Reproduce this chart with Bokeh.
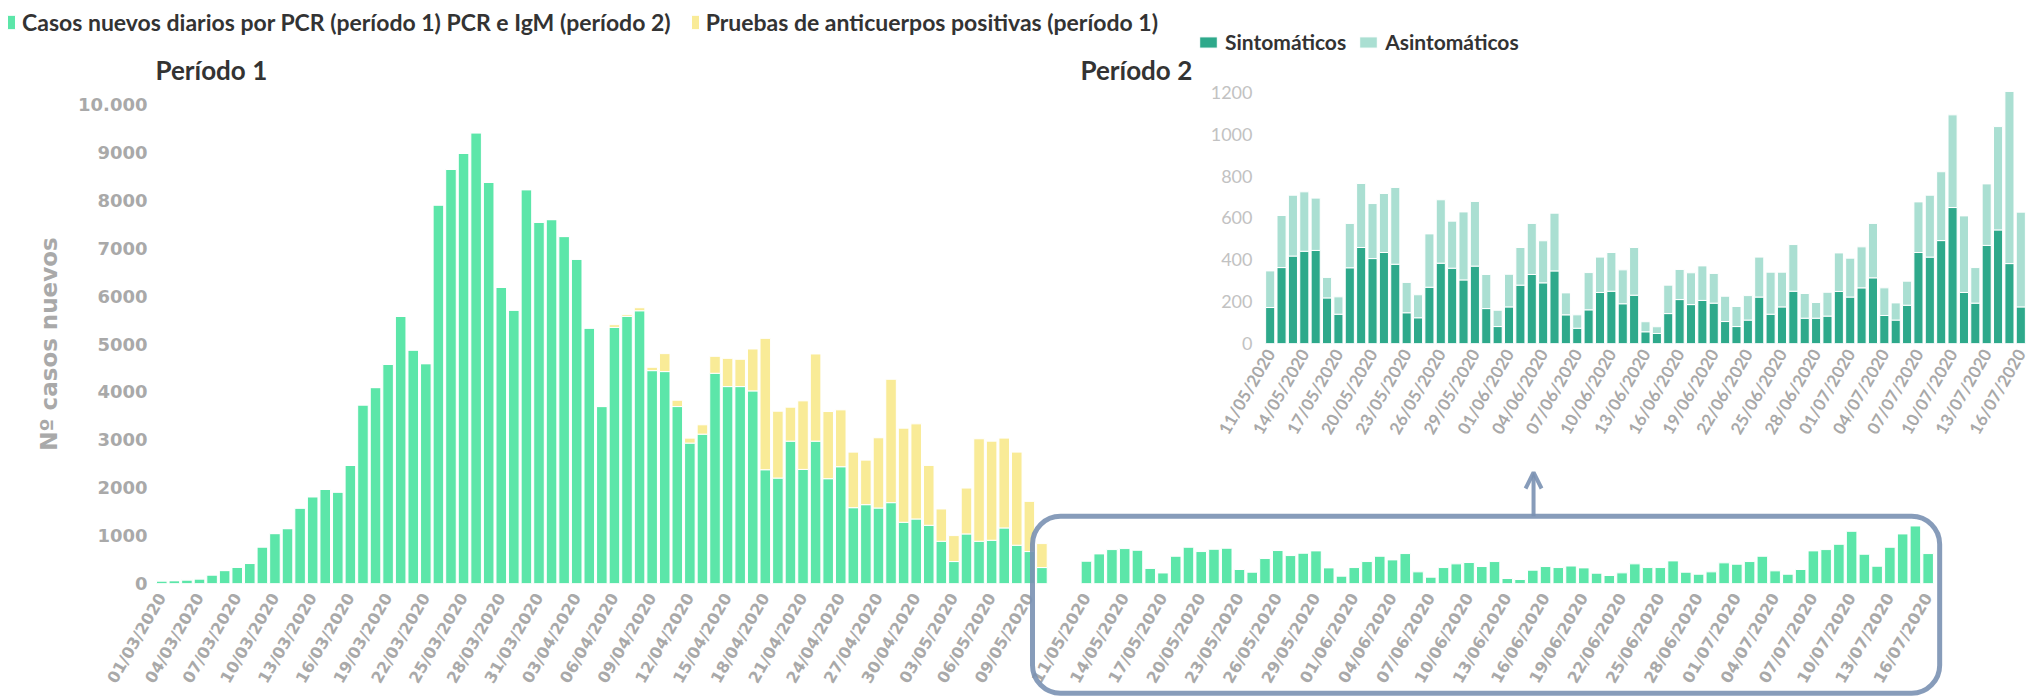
import numpy as np
import pandas as pd
from bokeh.plotting import figure
from bokeh.models import (ColumnDataSource, Range1d, FixedTicker, CustomJSTickFormatter,
                          Legend, LegendItem, Label, BoxAnnotation, Arrow, OpenHead)
from bokeh.embed import file_html
from bokeh.resources import INLINE
from bokeh.core.properties import value

# ---------------- data ----------------
dates_p1 = [d.strftime("%d/%m/%Y") for d in pd.date_range("2020-03-01", "2020-05-10")]
dates_p2 = [d.strftime("%d/%m/%Y") for d in pd.date_range("2020-05-11", "2020-07-16")]

pcr_p1 = [55, 60, 76, 97, 180, 270, 340, 417, 764, 1042, 1146, 1576, 1812, 1965, 1910, 2465,
          3729, 4090, 4576, 5576, 4875, 4590, 7903, 8646, 8979, 9410, 8375, 6180, 5708, 8222,
          7542, 7597, 7243, 6771, 5333, 3694, 5347, 5576, 5694, 4444, 4424, 3694, 2931, 3118,
          4389, 4111, 4111, 4021, 2375, 2201, 2972, 2382, 2972, 2188, 2438, 1583, 1646, 1576,
          1688, 1278, 1347, 1215, 882, 458, 1035, 882, 903, 1160, 799, 667, 333]
anticuerpos_p1 = [0, 0, 0, 0, 0, 0, 0, 0, 0, 0, 0, 0, 0, 0, 0, 0,
                  0, 0, 0, 0, 0, 0, 0, 0, 0, 0, 0, 0, 0, 0,
                  0, 0, 0, 0, 0, 0, 56, 35, 63, 70, 375, 132, 104, 195,
                  354, 590, 570, 875, 2743, 1396, 709, 1431, 1820, 1402, 1187, 1160, 930, 1466,
                  2576, 1965, 1986, 1250, 674, 542, 958, 2139, 2069, 1875, 1944, 1048, 500]
casos_p2 = [465, 618, 708, 729, 694, 315, 220, 569, 757, 667, 715, 736, 292, 236, 521, 688,
            583, 632, 681, 326, 153, 333, 458, 569, 493, 625, 243, 132, 333, 410, 438, 354,
            458, 104, 83, 278, 354, 333, 365, 326, 215, 167, 222, 410, 333, 333, 472, 236,
            194, 243, 431, 403, 458, 569, 264, 194, 292, 681, 708, 819, 1090, 611, 361, 757,
            1035, 1201, 625]
sintomaticos = [172, 363, 418, 441, 445, 218, 140, 362, 459, 406, 435, 379, 147, 123, 269, 384,
                360, 304, 370, 167, 81, 175, 279, 330, 290, 347, 137, 73, 161, 244, 250, 190,
                231, 56, 48, 143, 210, 186, 206, 193, 105, 81, 112, 222, 140, 175, 250, 121,
                121, 131, 249, 222, 266, 314, 134, 112, 183, 435, 413, 492, 650, 244, 193, 469,
                543, 382, 175]
asintomaticos = [175, 249, 291, 284, 250, 98, 83, 212, 306, 263, 282, 367, 145, 110, 255, 303,
                 225, 325, 309, 163, 78, 156, 180, 244, 201, 276, 105, 64, 178, 169, 185, 162,
                 228, 48, 32, 136, 144, 152, 165, 142, 121, 96, 117, 191, 201, 166, 223, 118,
                 75, 114, 184, 186, 196, 260, 132, 82, 115, 242, 296, 329, 443, 366, 170, 294,
                 494, 823, 453]

main_y_ticks = list(range(0, 10001, 1000))
inset_y_ticks = list(range(0, 1201, 200))

# ---------------- style ----------------
GREEN = "#5ce6a9"
YELLOW = "#f9eb97"
DARK = "#2ea98b"
LIGHT = "#aadfd2"
BOX = "#7a91b3"
TICK = "#a9a9a9"
HEAD = "#333333"
HFONT = "Lato"

W, H = 2032, 699
ML, MR, MT, MB = 155, 79, 104, 116          # main plot borders
X0, X1 = -0.5, 142.5                        # main x range
PX = (W - ML - MR) / (X1 - X0)
PY = (H - MT - MB) / 10000.0

# positions of bars on the main x scale (period 2 drawn after a gap)
x1 = list(range(len(dates_p1)))
P2_START, P2_STEP = 73.54, 1.0143
x2 = [P2_START + P2_STEP * k for k in range(len(dates_p2))]

JS = """
for (let j = 0; j < pos.length; j++) { if (Math.abs(pos[j] - tick) < 1e-6) return labs[j]; }
return "";
"""


def clean_axis(ax):
    ax.axis_line_color = None
    ax.major_tick_line_color = None
    ax.minor_tick_line_color = None
    ax.major_tick_in = 0
    ax.major_tick_out = 0
    ax.minor_tick_in = 0
    ax.minor_tick_out = 0


# ---------------- main figure ----------------
p = figure(width=W, height=H, min_border_left=ML, min_border_right=MR,
           min_border_top=MT, min_border_bottom=MB,
           x_range=Range1d(X0, X1), y_range=Range1d(0, 10000),
           output_backend="svg", toolbar_location=None,
           background_fill_color="white", border_fill_color="white", outline_line_color=None)
p.xgrid.visible = False
p.ygrid.visible = False

src1 = ColumnDataSource(dict(x=x1, pcr=pcr_p1, anti=anticuerpos_p1))
p.vbar_stack(["pcr", "anti"], x="x", width=0.84, source=src1,
             fill_color=[GREEN, YELLOW], line_color="white", line_width=1)
src2 = ColumnDataSource(dict(x=x2, casos=casos_p2))
p.vbar(x="x", top="casos", width=0.84, source=src2, fill_color=GREEN,
       line_color="white", line_width=1)

for ax in (p.xaxis[0], p.yaxis[0]):
    clean_axis(ax)
    ax.major_label_text_font = "DejaVu Sans"
    ax.major_label_text_font_style = "bold"
    ax.major_label_text_color = TICK

p.yaxis.ticker = FixedTicker(ticks=main_y_ticks)
p.yaxis.major_label_overrides = {10000: "10.000"}
p.yaxis.major_label_text_font_size = "18px"
p.yaxis.major_label_standoff = 8
p.yaxis.axis_label = "Nº casos nuevos"
p.yaxis.axis_label_text_font = "DejaVu Sans"
p.yaxis.axis_label_text_font_style = "bold"
p.yaxis.axis_label_text_font_size = "23px"
p.yaxis.axis_label_text_color = TICK
p.yaxis.axis_label_standoff = 13

tick_pos = [x1[i] for i in range(0, len(x1), 3)] + [x2[k] for k in range(0, len(x2), 3)]
tick_lab = [dates_p1[i] for i in range(0, len(x1), 3)] + [dates_p2[k] for k in range(0, len(x2), 3)]
p.xaxis.ticker = FixedTicker(ticks=tick_pos)
p.xaxis.formatter = CustomJSTickFormatter(args=dict(pos=tick_pos, labs=tick_lab), code=JS)
p.xaxis.major_label_orientation = np.pi / 3
p.xaxis.major_label_text_font_size = "16px"
p.xaxis.major_label_standoff = 11

# ---------------- inset figure (period 2 detail) ----------------
IL, IR, IT, IB = 1264, 6, 86, 356
q = figure(width=W, height=H, min_border_left=IL, min_border_right=IR,
           min_border_top=IT, min_border_bottom=IB,
           x_range=Range1d(-0.5, 66.5), y_range=Range1d(0, 1228.6),
           output_backend="svg", toolbar_location=None,
           background_fill_alpha=0, border_fill_alpha=0, outline_line_color=None)
q.xgrid.visible = False
q.ygrid.visible = False

src3 = ColumnDataSource(dict(x=list(range(len(dates_p2))), sint=sintomaticos, asint=asintomaticos))
q.vbar_stack(["sint", "asint"], x="x", width=0.8, source=src3,
             fill_color=[DARK, LIGHT], line_color="white", line_width=1)

for ax in (q.xaxis[0], q.yaxis[0]):
    clean_axis(ax)

q.yaxis.ticker = FixedTicker(ticks=inset_y_ticks)
q.yaxis.major_label_text_font = HFONT
q.yaxis.major_label_text_font_size = "18px"
q.yaxis.major_label_text_color = "#c2c2c2"
q.yaxis.major_label_standoff = 12

itick_pos = list(range(0, len(dates_p2), 3))
itick_lab = [dates_p2[k] for k in itick_pos]
q.xaxis.ticker = FixedTicker(ticks=itick_pos)
q.xaxis.formatter = CustomJSTickFormatter(args=dict(pos=itick_pos, labs=itick_lab), code=JS)
q.xaxis.major_label_orientation = np.pi / 3
q.xaxis.major_label_text_font = HFONT
q.xaxis.major_label_text_font_style = "bold"
q.xaxis.major_label_text_font_size = "17px"
q.xaxis.major_label_text_color = "#a8a8a8"
q.xaxis.major_label_standoff = 7
q.margin = (-H, 0, 0, 0)

# ---------------- overlay: titles, legends, zoom box and arrow (main chart coordinates) ----------------
d = figure(width=W, height=H, min_border_left=0, min_border_right=0,
           min_border_top=0, min_border_bottom=0,
           x_range=Range1d(X0 - ML / PX, X1 + MR / PX),
           y_range=Range1d(-MB / PY, 10000 + MT / PY),
           x_axis_location=None, y_axis_location=None,
           output_backend="svg", toolbar_location=None,
           background_fill_alpha=0, border_fill_alpha=0, outline_line_color=None)
d.grid.visible = False

# legend swatches (NaN: nothing drawn on the chart, same styles as the bars they describe)
sw_green = d.vbar(x=[np.nan], top=[np.nan], width=0.84, fill_color=GREEN, line_color="white")
sw_yellow = d.vbar(x=[np.nan], top=[np.nan], width=0.84, fill_color=YELLOW, line_color="white")
sw_dark = d.vbar(x=[np.nan], top=[np.nan], width=0.8, fill_color=DARK, line_color="white")
sw_light = d.vbar(x=[np.nan], top=[np.nan], width=0.8, fill_color=LIGHT, line_color="white")

legend1 = Legend(items=[
    LegendItem(label=value("Casos nuevos diarios por PCR (período 1) PCR e IgM (período 2)"), renderers=[sw_green]),
    LegendItem(label=value("Pruebas de anticuerpos positivas (período 1)"), renderers=[sw_yellow]),
], location=(6, H - 36), orientation="horizontal", padding=0, margin=0, spacing=19,
    label_standoff=6, glyph_width=10, glyph_height=18, border_line_color=None,
    background_fill_alpha=0, label_text_font=HFONT, label_text_font_style="bold",
    label_text_font_size="23px", label_text_color=HEAD)
d.add_layout(legend1)

legend2 = Legend(items=[
    LegendItem(label=value("Sintomáticos"), renderers=[sw_dark]),
    LegendItem(label=value("Asintomáticos"), renderers=[sw_light]),
], location=(1197, H - 54), orientation="horizontal", padding=0, margin=0, spacing=11,
    label_standoff=6, glyph_width=22, glyph_height=14, border_line_color=None,
    background_fill_alpha=0, label_text_font=HFONT, label_text_font_style="bold",
    label_text_font_size="21px", label_text_color=HEAD)
d.add_layout(legend2)

TITLE_Y = (H - MB - 69) / PY
d.add_layout(Label(x=X0, y=TITLE_Y, text="Período 1", text_font=HFONT, text_font_style="bold",
                   text_font_size="26px", text_color=HEAD, text_baseline="middle"))
d.add_layout(Label(x=X0 + (1080 - ML) / PX, y=TITLE_Y, text="Período 2", text_font=HFONT,
                   text_font_style="bold", text_font_size="26px", text_color=HEAD,
                   text_baseline="middle"))
d.add_layout(BoxAnnotation(left=69.25, right=141.4, top=1405, bottom=-2290,
                           fill_color=None, fill_alpha=0, line_color=BOX, line_alpha=0.9,
                           line_width=5, border_radius=28))
d.add_layout(Arrow(end=OpenHead(size=16, line_color=BOX, line_width=4, line_alpha=0.9),
                   x_start=109.1, y_start=1405, x_end=109.1, y_end=2317,
                   line_color=BOX, line_width=4, line_alpha=0.9))
d.margin = (-H, 0, 0, 0)

open("out.html", "w").write(file_html([p, q, d], INLINE))
